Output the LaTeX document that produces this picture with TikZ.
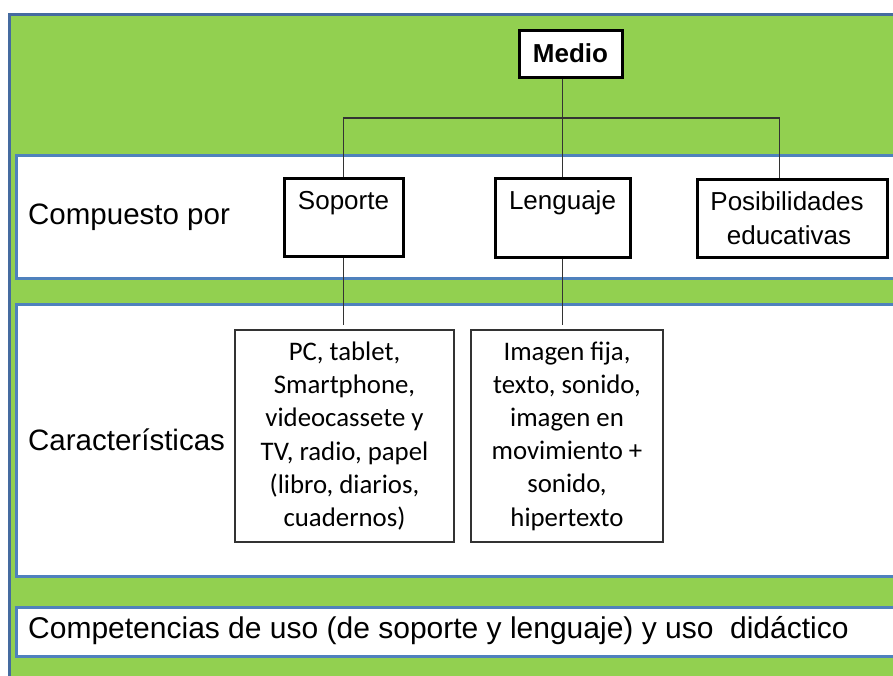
\documentclass[tikz,border=0pt]{standalone}
\usepackage{fontspec}
\setmainfont{Liberation Sans}
\newfontfamily\calib{Carlito}
\usetikzlibrary{calc}
\definecolor{grn}{RGB}{146,208,80}
\definecolor{bandblue}{RGB}{79,129,189}
\definecolor{outblue}{RGB}{69,107,160}
\begin{document}
\begin{tikzpicture}[x=1pt,y=-1pt,
  topbox/.style={draw=black,line width=3pt,fill=white,align=center,font=\fontsize{26}{34}\selectfont,inner sep=0pt},
  lowbox/.style={draw=black!80,line width=1.2pt,fill=white,align=center,font=\calib\fontsize{26.8}{33.2}\selectfont,inner sep=0pt},
  conn/.style={draw=black!80,line width=1.5pt},
  band/.style={draw=bandblue,line width=3pt,fill=white},
  lbl/.style={anchor=west,font=\fontsize{29.5}{34}\selectfont,inner sep=0pt}]
\useasboundingbox (0,0) rectangle (893,675);
\fill[grn] (9,14) rectangle (905,690);
\draw[outblue,line width=3pt] (9,690) -- (9,14) -- (905,14);
\draw[band] (16,155) rectangle (910,278);
\draw[band] (16,304) rectangle (910,576);
\draw[band] (16,607) rectangle (910,656);

\node[lbl] (comp) at (28,217) {Compuesto por};
\node[lbl] (car) at (28,440) {Características};
\node[lbl,font=\fontsize{30}{34}\selectfont] (cmp) at (28,631) {Competencias de uso (de soporte y lenguaje) y uso~ didáctico};

\node[topbox,font=\bfseries\fontsize{26}{34}\selectfont,minimum width=103pt,minimum height=47pt] (medio) at (570.5,53.5) {Medio};
\node[topbox,minimum width=119pt,minimum height=78pt] (sop) at (343.5,217.5) {Soporte\\\mbox{}};
\node[topbox,minimum width=135pt,minimum height=79pt] (len) at (562.5,217.5) {Lenguaje\\\mbox{}};
\node[topbox,minimum width=190pt,minimum height=78pt] (pos) at (792,218) {Posibilidades\hspace*{10pt}\\educativas\hspace*{6pt}};

\node[lowbox,minimum width=219pt,minimum height=212pt] (pc) at (344.5,436) {PC, tablet,\\Smartphone,\\videocassete y\\TV, radio, papel\\(libro, diarios,\\cuadernos)};
\node[lowbox,minimum width=192pt,minimum height=212pt] (img) at (567,436) {Imagen fija,\\texto, sonido,\\imagen en\\movimiento +\\sonido,\\hipertexto};

\coordinate (bus) at (0,118);
\coordinate (lowend) at (0,325);
\coordinate (posin) at ($(pos.north west)+(84,0)$);
\draw[conn] (len.north) -- (len.north |- medio.south);
\draw[conn] (sop.north) |- (posin |- bus) -- (posin);
\draw[conn] (sop.south) -- (sop.south |- lowend);
\draw[conn] (len.south) -- (len.south |- lowend);
\end{tikzpicture}
\end{document}
